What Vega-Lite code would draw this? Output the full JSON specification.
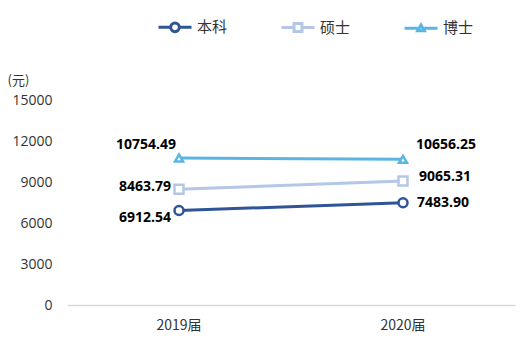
{
  "$schema": "https://vega.github.io/schema/vega-lite/v6.json",
  "autosize": "none",
  "padding": {"left": 67, "top": 100, "right": 8, "bottom": 40},
  "width": 448,
  "height": 205,
  "background": "white",
  "config": {"view": {"stroke": null}},
  "data": {"values": [
    {"year": "2019届", "series": "本科", "value": 6912.54},
    {"year": "2020届", "series": "本科", "value": 7483.90},
    {"year": "2019届", "series": "硕士", "value": 8463.79},
    {"year": "2020届", "series": "硕士", "value": 9065.31},
    {"year": "2019届", "series": "博士", "value": 10754.49},
    {"year": "2020届", "series": "博士", "value": 10656.25}
  ]},
  "encoding": {
    "x": {"field": "year", "type": "ordinal", "scale": {"type": "band", "paddingInner": 0, "paddingOuter": 0},
      "axis": {"title": null, "labelAngle": 0, "ticks": false, "grid": false, "domainColor": "#d9d9d9", "domainWidth": 1.5,
        "labelFont": "Noto Sans CJK SC", "labelFontSize": 14, "labelColor": "#333333", "labelPadding": 13}},
    "y": {"field": "value", "type": "quantitative", "scale": {"domain": [0, 15000], "nice": false},
      "axis": {"values": [0, 3000, 6000, 9000, 12000, 15000], "format": "d", "grid": false, "domain": false, "ticks": false,
        "labelFont": "Open Sans", "labelFontSize": 14, "labelColor": "#333333", "labelPadding": 15,
        "title": "(元)", "titleAngle": 0, "titleX": -60, "titleY": -20, "titleAlign": "left", "titleBaseline": "middle",
        "titleFont": "Noto Sans CJK SC", "titleFontSize": 13, "titleFontWeight": "normal", "titleColor": "#333333"}}
  },
  "layer": [
    {
      "mark": {"type": "line", "strokeWidth": 3},
      "encoding": {
        "stroke": {"field": "series", "type": "nominal",
          "scale": {"domain": ["本科", "硕士", "博士"], "range": ["#2F5597", "#B4C7E7", "#5BB5E3"]},
          "legend": {"title": null, "orient": "none", "legendX": 90, "legendY": -91, "direction": "horizontal",
            "padding": 0, "columnPadding": 47, "symbolSize": 1089, "symbolStrokeWidth": 3, "labelOffset": 4,
            "labelFont": "Noto Sans CJK SC", "labelFontSize": 15, "labelColor": "#333333",
            "encode": {"symbols": {"update": {
              "fill": {"value": "white"},
              "shape": {"signal": "datum.value == '本科' ? 'M-1,0H-0.26M0.26,0H1M0.26,0A0.26,0.26 0 1,1 -0.26,0A0.26,0.26 0 1,1 0.26,0' : datum.value == '硕士' ? 'M-1,0H-0.24M0.24,0H1M-0.24,-0.24H0.24V0.24H-0.24Z' : 'M-1,0H-0.2M0.2,0H1M0,-0.2L0.2,0.15H-0.2Z'"}
            }}}}
        }
      }
    },
    {
      "transform": [{"filter": "datum.series == '本科'"}],
      "mark": {"type": "point", "shape": "circle", "filled": true, "fill": "white", "strokeWidth": 2.5, "size": 81, "opacity": 1},
      "encoding": {"stroke": {"field": "series", "type": "nominal", "legend": null}}
    },
    {
      "transform": [{"filter": "datum.series == '硕士'"}],
      "mark": {"type": "point", "shape": "square", "filled": true, "fill": "white", "strokeWidth": 2.5, "size": 81, "opacity": 1},
      "encoding": {"stroke": {"field": "series", "type": "nominal", "legend": null}}
    },
    {
      "transform": [{"filter": "datum.series == '博士'"}],
      "mark": {"type": "point", "shape": "triangle-up", "filled": true, "fill": "white", "strokeWidth": 2.5, "size": 64, "opacity": 1},
      "encoding": {"stroke": {"field": "series", "type": "nominal", "legend": null}}
    },
    {
      "transform": [{"filter": "datum.year == '2019届' && datum.series == '博士'"}],
      "mark": {"type": "text", "align": "right", "dx": -3, "dy": -13, "font": "Open Sans", "fontSize": 14, "fontWeight": "bold", "color": "#000000"},
      "encoding": {"text": {"field": "value", "type": "quantitative", "format": ".2f"}}
    },
    {
      "transform": [{"filter": "datum.year == '2019届' && datum.series == '硕士'"}],
      "mark": {"type": "text", "align": "right", "dx": -8, "dy": -2, "font": "Open Sans", "fontSize": 14, "fontWeight": "bold", "color": "#000000"},
      "encoding": {"text": {"field": "value", "type": "quantitative", "format": ".2f"}}
    },
    {
      "transform": [{"filter": "datum.year == '2019届' && datum.series == '本科'"}],
      "mark": {"type": "text", "align": "right", "dx": -8, "dy": 7, "font": "Open Sans", "fontSize": 14, "fontWeight": "bold", "color": "#000000"},
      "encoding": {"text": {"field": "value", "type": "quantitative", "format": ".2f"}}
    },
    {
      "transform": [{"filter": "datum.year == '2020届' && datum.series == '博士'"}],
      "mark": {"type": "text", "align": "left", "dx": 13, "dy": -14, "font": "Open Sans", "fontSize": 14, "fontWeight": "bold", "color": "#000000"},
      "encoding": {"text": {"field": "value", "type": "quantitative", "format": ".2f"}}
    },
    {
      "transform": [{"filter": "datum.year == '2020届' && datum.series == '硕士'"}],
      "mark": {"type": "text", "align": "left", "dx": 16, "dy": -4, "font": "Open Sans", "fontSize": 14, "fontWeight": "bold", "color": "#000000"},
      "encoding": {"text": {"field": "value", "type": "quantitative", "format": ".2f"}}
    },
    {
      "transform": [{"filter": "datum.year == '2020届' && datum.series == '本科'"}],
      "mark": {"type": "text", "align": "left", "dx": 14, "dy": 0, "font": "Open Sans", "fontSize": 14, "fontWeight": "bold", "color": "#000000"},
      "encoding": {"text": {"field": "value", "type": "quantitative", "format": ".2f"}}
    }
  ]
}
